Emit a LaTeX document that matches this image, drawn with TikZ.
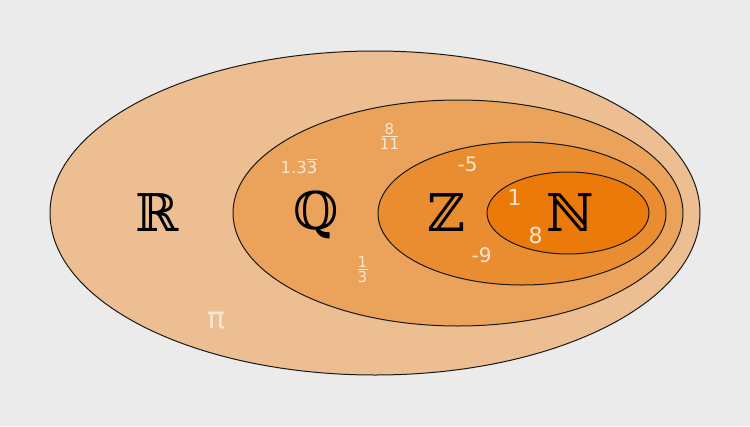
\documentclass[tikz,border=0pt]{standalone}
\usepackage{fontspec}
\setmainfont{DejaVu Sans}
\newfontfamily\dserif{DejaVu Serif}
\definecolor{bg}{HTML}{EBEBEB}
\definecolor{cR}{HTML}{ECBE92}
\definecolor{cQ}{HTML}{EBA25A}
\definecolor{cZ}{HTML}{EA8D30}
\definecolor{cN}{HTML}{EC7A0B}
\definecolor{txt}{HTML}{F7E7D2}
\tikzset{
  setell/.style={draw=black!90, line width=1pt},
  setname/.style={font=\dserif\fontsize{52}{52}\selectfont, text=black, inner sep=0pt},
  num/.style={font=\fontsize{20}{20}\selectfont, text=txt, inner sep=0pt},
  bignum/.style={font=\fontsize{22}{22}\selectfont, text=txt, inner sep=0pt},
  fracnum/.style={font=\fontsize{15}{15}\selectfont, text=txt, inner sep=0pt},
  fracbar/.style={draw=txt, line width=1pt},
}
\begin{document}
\begin{tikzpicture}[x=1pt,y=-1pt]
\fill[bg] (0,0) rectangle (750,426);
\useasboundingbox (0,0) rectangle (750,426);
\path[setell, fill=cR] (375,213) ellipse [x radius=325, y radius=162];
\path[setell, fill=cQ] (458,213) ellipse [x radius=225, y radius=113];
\path[setell, fill=cZ] (522,213.5) ellipse [x radius=144, y radius=71.5];
\path[setell, fill=cN] (568,213) ellipse [x radius=81, y radius=41];
\node[setname] (R) at (157,213) {ℝ};
\node[setname] (Q) at (316,215) {ℚ};
\node[setname] (Z) at (446,213) {ℤ};
\node[setname] (N) at (570,213) {ℕ};
\node[num, font=\fontsize{16.5}{16.5}\selectfont] (a) at (299,166) {1.3$\overline{\hbox{3}}$};
% 8/11
\node[fracnum] (b1) at (389.5,129) {8};
\node[fracnum] (b2) at (389.5,144) {11};
\coordinate (b3) at (381.5,136);
\coordinate (b4) at (397.5,136);
\draw[fracbar] (b3) -- (b4);
% 1/3
\node[fracnum] (c1) at (362.5,262) {1};
\node[fracnum] (c2) at (362.5,277.5) {3};
\coordinate (c3) at (357.5,269.5);
\coordinate (c4) at (367.5,269.5);
\draw[fracbar] (c3) -- (c4);
\node[num] (d) at (467.5,164.5) {-5};
\node[bignum] (e) at (514.5,197) {1};
\node[bignum] (f) at (535.5,235) {8};
\node[num] (g) at (481.5,255.5) {-9};
\node[num, font=\fontsize{30}{30}\selectfont] (h) at (217,321) {π};
\end{tikzpicture}
\end{document}
